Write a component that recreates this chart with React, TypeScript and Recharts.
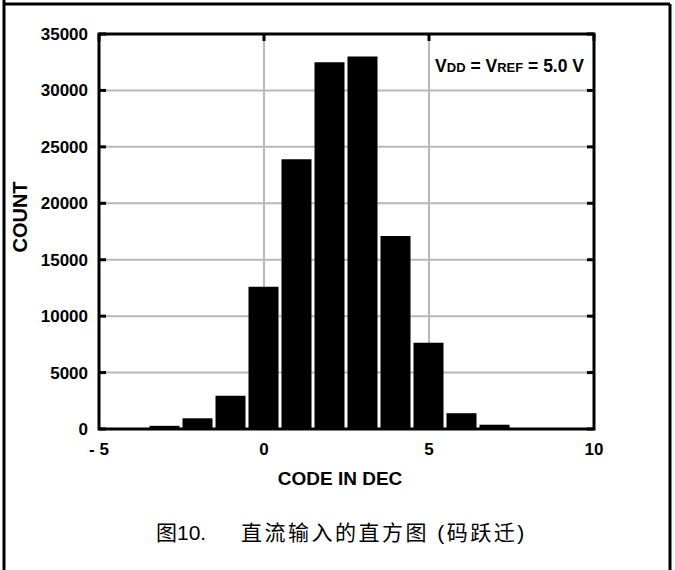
import React from "react";
import { BarChart, Bar, XAxis, YAxis, CartesianGrid, ReferenceArea } from "recharts";

const codes = [-4, -3, -2, -1, 0, 1, 2, 3, 4, 5, 6, 7, 8, 9];
const counts = [80, 280, 950, 2950, 12600, 23900, 32500, 33000, 17100, 7650, 1400, 380, 80, 30];
const xTicks = [-5, 0, 5, 10];
const yTicks = [0, 5000, 10000, 15000, 20000, 25000, 30000, 35000];

const data = codes.map((c, i) => ({ code: c, count: counts[i] }));

const FONT = "'Liberation Sans', Arial, 'Noto Sans CJK SC', sans-serif";

const CHART_W = 675;
const CHART_H = 570;
const MARGIN = { top: 34, right: 81, bottom: 111, left: 39 };
const Y_AXIS_W = 60;
const X_AXIS_H = 30;
const PLOT_W = CHART_W - MARGIN.left - MARGIN.right - Y_AXIS_W;
const PLOT_H = CHART_H - MARGIN.top - MARGIN.bottom - X_AXIS_H;
const TICK_LEN = 7;

const YTick = (props: any) => {
  const { x, y, payload } = props;
  return (
    <g>
      <line x1={x} y1={y} x2={x + TICK_LEN} y2={y} stroke="#000" strokeWidth={3} />
      <line x1={x + PLOT_W - TICK_LEN} y1={y} x2={x + PLOT_W} y2={y} stroke="#000" strokeWidth={3} />
      <text x={x - 11} y={y + 6} textAnchor="end" fontFamily={FONT} fontWeight="bold" fontSize={17} fill="#000">
        {payload.value}
      </text>
    </g>
  );
};

const XTick = (props: any) => {
  const { x, y, payload } = props;
  const v = payload.value;
  const label = v < 0 ? `- ${Math.abs(v)}` : String(v);
  return (
    <g>
      <line x1={x} y1={y - PLOT_H} x2={x} y2={y - PLOT_H + TICK_LEN} stroke="#000" strokeWidth={3} />
      <text x={x} y={y + 26} textAnchor="middle" fontFamily={FONT} fontWeight="bold" fontSize={17} fill="#000">
        {label}
      </text>
    </g>
  );
};

export default function App() {
  return (
    <div style={{ position: "absolute", left: 0, top: 0, width: CHART_W, height: CHART_H, background: "#fff" }}>
      <BarChart width={CHART_W} height={CHART_H} data={data} margin={MARGIN}>
        <CartesianGrid stroke="#b8b8b8" strokeWidth={2} />
        <XAxis
          dataKey="code"
          type="number"
          domain={[-5, 10]}
          ticks={xTicks}
          allowDataOverflow
          height={X_AXIS_H}
          tickSize={0}
          tickMargin={0}
          tickLine={false}
          axisLine={false}
          tick={<XTick />}
          interval={0}
        />
        <YAxis
          type="number"
          domain={[0, 35000]}
          ticks={yTicks}
          width={Y_AXIS_W}
          tickSize={0}
          tickMargin={0}
          tickLine={false}
          axisLine={false}
          tick={<YTick />}
          interval={0}
        />
        <Bar dataKey="count" fill="#000" barSize={30} isAnimationActive={false} />
        <ReferenceArea
          x1={-5}
          x2={10}
          y1={0}
          y2={35000}
          fill="none"
          fillOpacity={0}
          stroke="#000"
          strokeWidth={3}
          ifOverflow="visible"
        />
      </BarChart>
      <svg
        width={CHART_W}
        height={CHART_H}
        style={{ position: "absolute", left: 0, top: 0, pointerEvents: "none" }}
      >
        <line x1={4} y1={0} x2={4} y2={570} stroke="#000" strokeWidth={3} />
        <line x1={4} y1={4} x2={670} y2={4} stroke="#000" strokeWidth={3} />
        <line x1={670} y1={4} x2={670} y2={570} stroke="#000" strokeWidth={3} />
        <text x={584} y={72} textAnchor="end" fontFamily={FONT} fontWeight="bold" fontSize={17.5} fill="#000">
          <tspan>V</tspan>
          <tspan fontSize={13}>DD</tspan>
          <tspan> = V</tspan>
          <tspan fontSize={13}>REF</tspan>
          <tspan> = 5.0 V</tspan>
        </text>
        <text
          x={0}
          y={0}
          transform="translate(27 217) rotate(-90)"
          textAnchor="middle"
          fontFamily={FONT}
          fontWeight="bold"
          fontSize={20}
          fill="#000"
        >
          COUNT
        </text>
        <text x={340} y={485} textAnchor="middle" fontFamily={FONT} fontWeight="bold" fontSize={19} fill="#000">
          CODE IN DEC
        </text>
        <text x={156} y={540} fontFamily={FONT} fontSize={21} fill="#000">
          图10.
        </text>
        <text x={241} y={540} fontFamily={FONT} fontSize={21} letterSpacing={2.5} fill="#000">
          直流输入的直方图 (码跃迁)
        </text>
      </svg>
    </div>
  );
}
